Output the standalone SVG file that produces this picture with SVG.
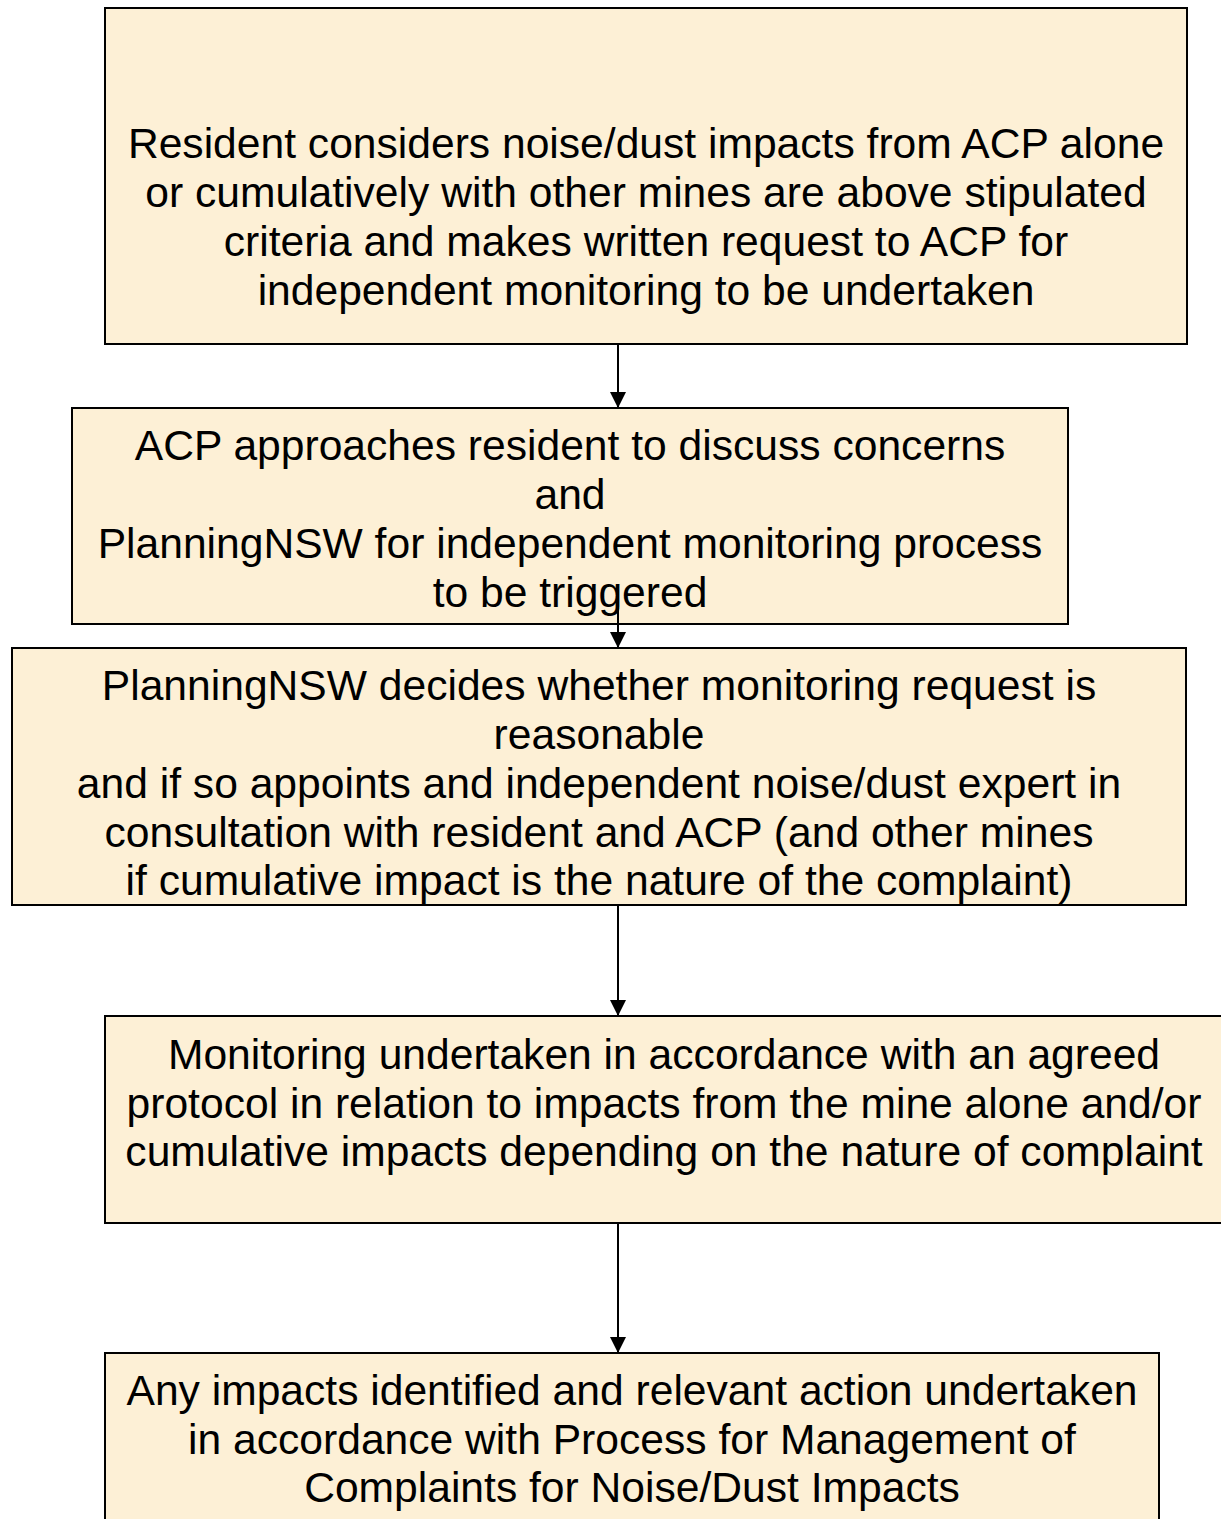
<svg xmlns="http://www.w3.org/2000/svg" width="1221" height="1519" viewBox="0 0 1221 1519">
<style>
.box{fill:#fdf0d6;stroke:#000;stroke-width:2}
.t{font-family:"Liberation Sans",Arial,sans-serif;font-size:42.6px;fill:#000;text-anchor:middle}
.c{stroke:#000;stroke-width:2;fill:none;marker-end:url(#ah)}
</style>
<defs>
<marker id="ah" viewBox="0 0 16 16" refX="16" refY="8" markerWidth="16" markerHeight="16" markerUnits="userSpaceOnUse" orient="auto">
<path d="M0,0 L16,8 L0,16 Z" fill="#000"/>
</marker>
</defs>
<rect width="1221" height="1519" fill="#fff"/>
<g id="n1">
<rect class="box" x="105" y="8" width="1082" height="336"/>
<text class="t" x="646" y="158">Resident considers noise/dust impacts from ACP alone</text>
<text class="t" x="646" y="207">or cumulatively with other mines are above stipulated</text>
<text class="t" x="646" y="256">criteria and makes written request to ACP for</text>
<text class="t" x="646" y="305">independent monitoring to be undertaken</text>
</g>
<g id="n2">
<rect class="box" x="72" y="408" width="996" height="216"/>
<text class="t" x="570" y="460">ACP approaches resident to discuss concerns</text>
<text class="t" x="570" y="509">and</text>
<text class="t" x="570" y="558">PlanningNSW for independent monitoring process</text>
<text class="t" x="570" y="607">to be triggered</text>
</g>
<g id="n3">
<rect class="box" x="12" y="648" width="1174" height="257"/>
<text class="t" x="599" y="700">PlanningNSW decides whether monitoring request is</text>
<text class="t" x="599" y="749">reasonable</text>
<text class="t" x="599" y="798">and if so appoints and independent noise/dust expert in</text>
<text class="t" x="599" y="847">consultation with resident and ACP (and other mines</text>
<text class="t" x="599" y="895">if cumulative impact is the nature of the complaint)</text>
</g>
<g id="n4">
<rect class="box" x="105" y="1016" width="1120" height="207"/>
<text class="t" x="664" y="1069">Monitoring undertaken in accordance with an agreed</text>
<text class="t" x="664" y="1118">protocol in relation to impacts from the mine alone and/or</text>
<text class="t" x="664" y="1166">cumulative impacts depending on the nature of complaint</text>
</g>
<g id="n5">
<rect class="box" x="105" y="1353" width="1054" height="180"/>
<text class="t" x="632" y="1405">Any impacts identified and relevant action undertaken</text>
<text class="t" x="632" y="1454">in accordance with Process for Management of</text>
<text class="t" x="632" y="1502">Complaints for Noise/Dust Impacts</text>
</g>
<g id="connectors">
<line class="c" x1="618" y1="344" x2="618" y2="408"/>
<line class="c" x1="618" y1="590" x2="618" y2="648"/>
<line class="c" x1="618" y1="905" x2="618" y2="1016"/>
<line class="c" x1="618" y1="1223" x2="618" y2="1353"/>
</g>
</svg>
